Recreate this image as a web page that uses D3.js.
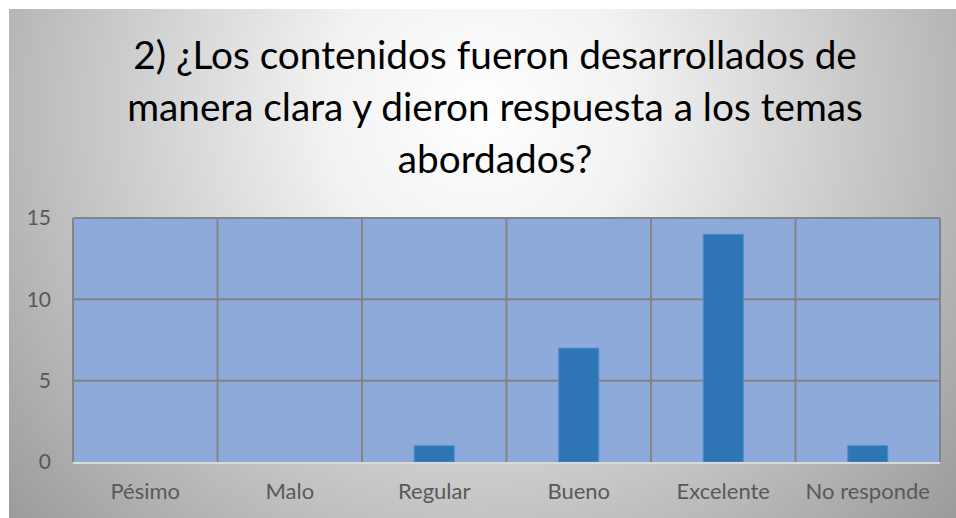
<!DOCTYPE html>
<html>
<head>
<meta charset="utf-8">
<script src="https://cdn.jsdelivr.net/npm/d3@7"></script>
<style>
  body { margin: 0; background: #fff; }
  svg { display: block; }
</style>
</head>
<body>
<div id="chart"></div>
<script>
// data
var categories = ["Pésimo", "Malo", "Regular", "Bueno", "Excelente", "No responde"];
var values = [0, 0, 1, 7, 14, 1];
var yTicks = [0, 5, 10, 15];
var titleLines = [
  "2) ¿Los contenidos fueron desarrollados de",
  "manera clara y dieron respuesta a los temas",
  "abordados?"
];

var W = 956, H = 518;
var font = "Lato, 'Open Sans', sans-serif";
var margin = { top: 218, right: 16, bottom: 56, left: 73 },
  width = W - margin.left - margin.right,
  height = H - margin.top - margin.bottom;

var root = d3.select("#chart")
.append("svg")
  .attr("width", W)
  .attr("height", H);

// background gradient
var grad = root.append("defs").append("radialGradient")
  .attr("id", "bg")
  .attr("gradientUnits", "userSpaceOnUse")
  .attr("cx", 480).attr("cy", 110)
  .attr("r", 620);
grad.append("stop").attr("offset", "0%").attr("stop-color", "#ffffff");
grad.append("stop").attr("offset", "25%").attr("stop-color", "#f2f2f2");
grad.append("stop").attr("offset", "100%").attr("stop-color", "#9c9c9c");

root.append("rect")
  .attr("x", 9).attr("y", 9)
  .attr("width", W - 9).attr("height", H - 9)
  .attr("fill", "url(#bg)");

// title
var title = root.append("text")
  .attr("text-anchor", "middle")
  .style("font-family", font)
  .style("font-size", "36px")
  .attr("fill", "#000");
title.selectAll("tspan")
  .data(titleLines)
  .enter()
  .append("tspan")
    .attr("x", 495)
    .attr("y", function (d, i) { return 69 + i * 52; })
    .text(function (d) { return d; });

// fit first line to the width of the original
var firstLen = title.select("tspan").node().getComputedTextLength();
title.style("font-size", (36 * 724 / firstLen) + "px");

var svg = root.append("g")
  .attr("transform", "translate(" + margin.left + "," + margin.top + ")");

var x = d3.scaleBand()
  .range([0, width])
  .domain(categories)
  .padding(0);

var y = d3.scaleLinear()
  .range([height, 0])
  .domain([0, 15]);

// plot area
svg.append("rect")
  .attr("width", width)
  .attr("height", height)
  .attr("fill", "#8eaadb");

// horizontal gridlines
svg.selectAll(".hgrid")
  .data(yTicks.filter(function (d) { return d > 0; }))
  .enter()
  .append("line")
    .attr("x1", 0).attr("x2", width)
    .attr("y1", function (d) { return y(d); })
    .attr("y2", function (d) { return y(d); })
    .attr("stroke", "#848484")
    .attr("stroke-width", 2);

// vertical gridlines at category bounds
svg.selectAll(".vgrid")
  .data(categories.concat([null]))
  .enter()
  .append("line")
    .attr("x1", function (d) { return d === null ? width : x(d); })
    .attr("x2", function (d) { return d === null ? width : x(d); })
    .attr("y1", 0).attr("y2", height)
    .attr("stroke", "#848484")
    .attr("stroke-width", 2);

// bars
var barW = x.bandwidth() * 0.277;
svg.selectAll(".bar")
  .data(categories.map(function (c, i) { return { cat: c, v: values[i] }; })
    .filter(function (d) { return d.v > 0; }))
  .enter()
  .append("rect")
    .attr("class", "bar")
    .attr("x", function (d) { return x(d.cat) + (x.bandwidth() - barW) / 2; })
    .attr("y", function (d) { return y(d.v); })
    .attr("width", barW)
    .attr("height", function (d) { return height - y(d.v); })
    .attr("fill", "#2e75b6")
    .attr("stroke", "#4d8ccb")
    .attr("stroke-width", 1);

// bottom axis line
svg.append("line")
  .attr("x1", 0).attr("x2", width)
  .attr("y1", height + 1).attr("y2", height + 1)
  .attr("stroke", "#dadada")
  .attr("stroke-width", 2);

// y axis
var yAxis = svg.append("g")
  .call(d3.axisLeft(y).tickValues(yTicks).tickSize(0).tickPadding(22));
yAxis.select(".domain").remove();
yAxis.selectAll("text")
  .style("font-family", font)
  .style("font-size", "21px")
  .attr("fill", "#595959");

// x axis
var xAxis = svg.append("g")
  .attr("transform", "translate(0," + height + ")")
  .call(d3.axisBottom(x).tickSize(0).tickPadding(21));
xAxis.select(".domain").remove();
xAxis.selectAll("text")
  .style("font-family", font)
  .style("font-size", "22px")
  .attr("fill", "#595959");
</script>
</body>
</html>
